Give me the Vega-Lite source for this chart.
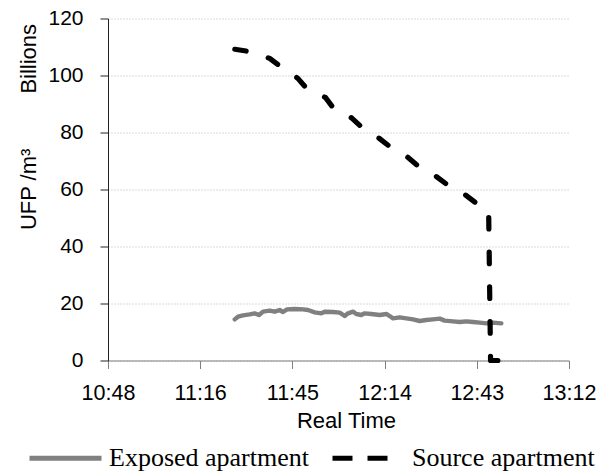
{
  "$schema": "https://vega.github.io/schema/vega-lite/v6.json",
  "width": 461,
  "height": 342,
  "autosize": {"type": "none"},
  "padding": {"left": 108, "top": 18.5, "right": 32, "bottom": 114.5},
  "background": "white",
  "config": {
    "view": {"stroke": null},
    "axis": {"labelColor": "#000", "titleColor": "#000", "titleFontWeight": "normal"}
  },
  "data": {
    "values": [
      {"series": "Exposed apartment", "time": "2020-01-01T11:27:35", "ufp": 14.44},
      {"series": "Exposed apartment", "time": "2020-01-01T11:28:37", "ufp": 15.38},
      {"series": "Exposed apartment", "time": "2020-01-01T11:30:11", "ufp": 15.85},
      {"series": "Exposed apartment", "time": "2020-01-01T11:32:16", "ufp": 16.2},
      {"series": "Exposed apartment", "time": "2020-01-01T11:33:49", "ufp": 16.55},
      {"series": "Exposed apartment", "time": "2020-01-01T11:35:11", "ufp": 15.96},
      {"series": "Exposed apartment", "time": "2020-01-01T11:36:26", "ufp": 17.13},
      {"series": "Exposed apartment", "time": "2020-01-01T11:38:31", "ufp": 17.49},
      {"series": "Exposed apartment", "time": "2020-01-01T11:40:04", "ufp": 17.13},
      {"series": "Exposed apartment", "time": "2020-01-01T11:41:38", "ufp": 17.72},
      {"series": "Exposed apartment", "time": "2020-01-01T11:42:40", "ufp": 17.02},
      {"series": "Exposed apartment", "time": "2020-01-01T11:43:55", "ufp": 17.95},
      {"series": "Exposed apartment", "time": "2020-01-01T11:46:19", "ufp": 18.07},
      {"series": "Exposed apartment", "time": "2020-01-01T11:48:55", "ufp": 17.95},
      {"series": "Exposed apartment", "time": "2020-01-01T11:50:29", "ufp": 17.72},
      {"series": "Exposed apartment", "time": "2020-01-01T11:52:34", "ufp": 16.9},
      {"series": "Exposed apartment", "time": "2020-01-01T11:54:39", "ufp": 16.55},
      {"series": "Exposed apartment", "time": "2020-01-01T11:55:41", "ufp": 17.13},
      {"series": "Exposed apartment", "time": "2020-01-01T11:58:17", "ufp": 17.02},
      {"series": "Exposed apartment", "time": "2020-01-01T12:00:22", "ufp": 16.78},
      {"series": "Exposed apartment", "time": "2020-01-01T12:01:56", "ufp": 15.61},
      {"series": "Exposed apartment", "time": "2020-01-01T12:02:59", "ufp": 16.55},
      {"series": "Exposed apartment", "time": "2020-01-01T12:04:32", "ufp": 17.13},
      {"series": "Exposed apartment", "time": "2020-01-01T12:05:35", "ufp": 16.32},
      {"series": "Exposed apartment", "time": "2020-01-01T12:07:08", "ufp": 15.96},
      {"series": "Exposed apartment", "time": "2020-01-01T12:08:11", "ufp": 16.55},
      {"series": "Exposed apartment", "time": "2020-01-01T12:10:16", "ufp": 16.32},
      {"series": "Exposed apartment", "time": "2020-01-01T12:12:52", "ufp": 15.96},
      {"series": "Exposed apartment", "time": "2020-01-01T12:14:57", "ufp": 16.32},
      {"series": "Exposed apartment", "time": "2020-01-01T12:15:59", "ufp": 15.61},
      {"series": "Exposed apartment", "time": "2020-01-01T12:17:02", "ufp": 14.8},
      {"series": "Exposed apartment", "time": "2020-01-01T12:19:07", "ufp": 15.15},
      {"series": "Exposed apartment", "time": "2020-01-01T12:21:12", "ufp": 14.8},
      {"series": "Exposed apartment", "time": "2020-01-01T12:23:17", "ufp": 14.44},
      {"series": "Exposed apartment", "time": "2020-01-01T12:25:22", "ufp": 13.86},
      {"series": "Exposed apartment", "time": "2020-01-01T12:27:26", "ufp": 14.21},
      {"series": "Exposed apartment", "time": "2020-01-01T12:29:32", "ufp": 14.44},
      {"series": "Exposed apartment", "time": "2020-01-01T12:31:37", "ufp": 14.68},
      {"series": "Exposed apartment", "time": "2020-01-01T12:33:10", "ufp": 13.98},
      {"series": "Exposed apartment", "time": "2020-01-01T12:35:46", "ufp": 13.74},
      {"series": "Exposed apartment", "time": "2020-01-01T12:37:52", "ufp": 13.51},
      {"series": "Exposed apartment", "time": "2020-01-01T12:39:56", "ufp": 13.74},
      {"series": "Exposed apartment", "time": "2020-01-01T12:42:01", "ufp": 13.51},
      {"series": "Exposed apartment", "time": "2020-01-01T12:44:06", "ufp": 13.27},
      {"series": "Exposed apartment", "time": "2020-01-01T12:46:11", "ufp": 13.04},
      {"series": "Exposed apartment", "time": "2020-01-01T12:48:16", "ufp": 13.27},
      {"series": "Exposed apartment", "time": "2020-01-01T12:50:52", "ufp": 13.04},
      {"series": "Source apartment", "time": "2020-01-01T11:27:36", "ufp": 109.2},
      {"series": "Source apartment", "time": "2020-01-01T11:32:48", "ufp": 108.3},
      {"series": "Source apartment", "time": "2020-01-01T11:38:30", "ufp": 106},
      {"series": "Source apartment", "time": "2020-01-01T11:42:06", "ufp": 103},
      {"series": "Source apartment", "time": "2020-01-01T11:47:18", "ufp": 99},
      {"series": "Source apartment", "time": "2020-01-01T11:50:24", "ufp": 95},
      {"series": "Source apartment", "time": "2020-01-01T11:55:54", "ufp": 92.3},
      {"series": "Source apartment", "time": "2020-01-01T11:58:48", "ufp": 88},
      {"series": "Source apartment", "time": "2020-01-01T12:04:00", "ufp": 85.2},
      {"series": "Source apartment", "time": "2020-01-01T12:07:36", "ufp": 81.5},
      {"series": "Source apartment", "time": "2020-01-01T12:12:18", "ufp": 78.3},
      {"series": "Source apartment", "time": "2020-01-01T12:16:06", "ufp": 75},
      {"series": "Source apartment", "time": "2020-01-01T12:21:06", "ufp": 71.8},
      {"series": "Source apartment", "time": "2020-01-01T12:24:42", "ufp": 68.4},
      {"series": "Source apartment", "time": "2020-01-01T12:29:54", "ufp": 65.1},
      {"series": "Source apartment", "time": "2020-01-01T12:33:42", "ufp": 61.9},
      {"series": "Source apartment", "time": "2020-01-01T12:38:42", "ufp": 58.9},
      {"series": "Source apartment", "time": "2020-01-01T12:42:42", "ufp": 55.5},
      {"series": "Source apartment", "time": "2020-01-01T12:45:30", "ufp": 54},
      {"series": "Source apartment", "time": "2020-01-01T12:46:54", "ufp": 52.5},
      {"series": "Source apartment", "time": "2020-01-01T12:47:30", "ufp": 0},
      {"series": "Source apartment", "time": "2020-01-01T12:51:06", "ufp": 0}
    ]
  },
  "encoding": {
    "x": {
      "field": "time",
      "type": "temporal",
      "scale": {
        "domain": [
          {"year": 2020, "month": 1, "date": 1, "hours": 10, "minutes": 48},
          {"year": 2020, "month": 1, "date": 1, "hours": 13, "minutes": 12}
        ]
      },
      "axis": {
        "values": [
          {"year": 2020, "month": 1, "date": 1, "hours": 10, "minutes": 48},
          {"year": 2020, "month": 1, "date": 1, "hours": 11, "minutes": 16, "seconds": 48},
          {"year": 2020, "month": 1, "date": 1, "hours": 11, "minutes": 45, "seconds": 36},
          {"year": 2020, "month": 1, "date": 1, "hours": 12, "minutes": 14, "seconds": 24},
          {"year": 2020, "month": 1, "date": 1, "hours": 12, "minutes": 43, "seconds": 12},
          {"year": 2020, "month": 1, "date": 1, "hours": 13, "minutes": 12}
        ],
        "format": "%H:%M",
        "title": "Real Time",
        "titleFont": "Liberation Sans",
        "titleFontSize": 22,
        "titleX": 238,
        "titleY": 67,
        "titleBaseline": "alphabetic",
        "titleAlign": "center",
        "labelFont": "Liberation Sans",
        "labelFontSize": 21.5,
        "labelPadding": 14,
        "labelFlush": false,
        "labelOverlap": false,
        "tickSize": 8,
        "tickColor": "#7f7f7f",
        "domainColor": "#7f7f7f",
        "grid": false
      }
    },
    "y": {
      "field": "ufp",
      "type": "quantitative",
      "scale": {"domain": [0, 120]},
      "axis": {
        "values": [0, 20, 40, 60, 80, 100, 120],
        "title": "UFP /m³\u00a0\u00a0\u00a0\u00a0\u00a0\u00a0\u00a0\u00a0\u00a0Billions",
        "titleFont": "Liberation Sans",
        "titleFontSize": 22,
        "titleX": -73,
        "titleY": 108,
        "titleAngle": -90,
        "titleAlign": "center",
        "titleBaseline": "alphabetic",
        "labelFont": "Liberation Sans",
        "labelFontSize": 21,
        "labelPadding": 17,
        "labelFlush": false,
        "tickSize": 8,
        "tickColor": "#222",
        "domainColor": "#222",
        "grid": true,
        "gridColor": "#b5b5b5",
        "gridDash": [1, 2],
        "gridWidth": 1
      }
    },
    "color": {
      "field": "series",
      "type": "nominal",
      "scale": {"domain": ["Exposed apartment", "Source apartment"], "range": ["#808080", "#000000"]},
      "legend": {
        "title": null,
        "orient": "none",
        "legendX": -81,
        "legendY": 401,
        "direction": "horizontal",
        "columns": 2,
        "padding": 0,
        "symbolType": "stroke",
        "symbolSize": 5184,
        "symbolStrokeWidth": 5,
        "labelFont": "Liberation Serif",
        "labelFontSize": 26,
        "labelColor": "#000",
        "labelOffset": 5,
        "labelLimit": 400,
        "columnPadding": 13,
        "encode": {
          "symbols": {
            "update": {
              "strokeDash": [
                {"test": "datum.value === 'Source apartment'", "value": [20, 15, 20, 17]},
                {"value": [1, 0]}
              ],
              "strokeWidth": {"value": 5}
            }
          }
        }
      }
    }
  },
  "layer": [
    {
      "transform": [{"filter": "datum.series === 'Exposed apartment'"}],
      "mark": {"type": "line", "strokeCap": "round", "strokeJoin": "round", "strokeWidth": 4.4, "clip": false}
    },
    {
      "transform": [{"filter": "datum.series === 'Source apartment'"}],
      "mark": {"type": "line", "strokeCap": "round", "strokeJoin": "round", "strokeWidth": 5.2, "strokeDash": [11.5, 23.2], "clip": false}
    }
  ]
}
